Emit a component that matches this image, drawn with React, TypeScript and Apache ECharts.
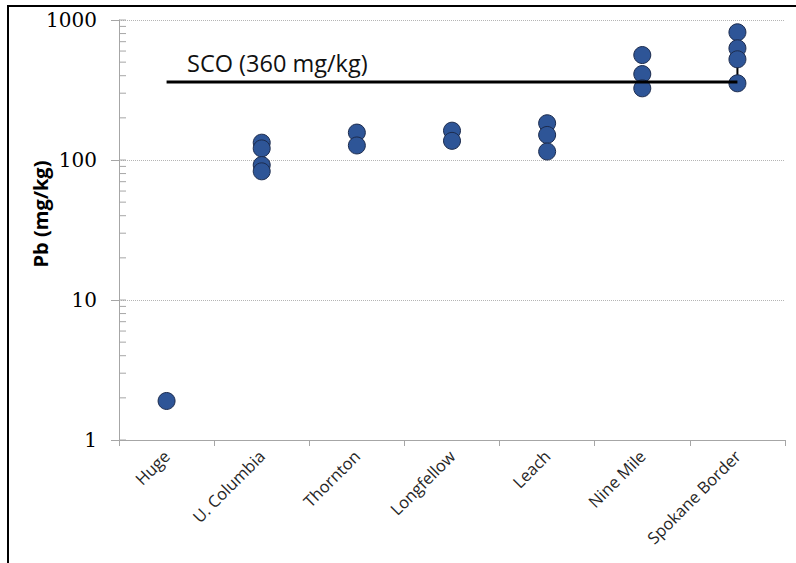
import React, { useEffect, useRef } from "react";
import * as echarts from "echarts";

const categories = ["Huge", "U. Columbia", "Thornton", "Longfellow", "Leach", "Nine Mile", "Spokane Border"];

const hugeValues = [1.9];
const uColumbiaValues = [133, 121, 92, 83];
const thorntonValues = [157, 127];
const longfellowValues = [162, 137];
const leachValues = [183, 151, 115];
const nineMileValues = [562, 411, 325];
const spokaneBorderValues = [817, 628, 524, 353];

const siteValues = [
  hugeValues,
  uColumbiaValues,
  thorntonValues,
  longfellowValues,
  leachValues,
  nineMileValues,
  spokaneBorderValues,
];

const scoValue = 360;
const scoLabel = "SCO (360 mg/kg)";
const connectorValues = [353, 524];

const yTickValues = [
  1, 2, 3, 4, 5, 6, 7, 8, 9,
  10, 20, 30, 40, 50, 60, 70, 80, 90,
  100, 200, 300, 400, 500, 600, 700, 800, 900,
  1000,
];

export default function App() {
  const ref = useRef<HTMLDivElement>(null);

  useEffect(() => {
    if (!ref.current) return;
    const chart = echarts.init(ref.current, undefined, { renderer: "svg" });

    const scatterData: [number, number][] = [];
    siteValues.forEach((vals, i) => vals.forEach((v) => scatterData.push([i, v])));

    const axisGray = "#a6a6a6";

    chart.setOption({
      animation: false,
      backgroundColor: "#ffffff",
      grid: { left: 119, top: 20, right: 11, bottom: 123, containLabel: false },
      xAxis: {
        type: "category",
        data: categories,
        boundaryGap: true,
        axisLine: { show: true, lineStyle: { color: axisGray, width: 1 } },
        axisTick: { show: true, length: 6, lineStyle: { color: axisGray } },
        axisLabel: {
          rotate: 45,
          margin: 13,
          interval: 0,
          fontFamily: "Open Sans",
          fontSize: 16.5,
          color: "#262626",
        },
        splitLine: { show: false },
      },
      yAxis: {
        type: "log",
        logBase: 10,
        min: 1,
        max: 1000,
        axisLine: { show: true, lineStyle: { color: axisGray, width: 1 } },
        axisTick: { show: true, length: 8, lineStyle: { color: axisGray } },
        axisLabel: {
          margin: 22,
          fontFamily: "DejaVu Serif",
          fontSize: 20,
          color: "#000000",
          formatter: (v: number) => String(Math.round(v)),
        },
        splitLine: { show: true, lineStyle: { color: "#b5b5b5", type: "dotted", width: 1 } },
      },
      graphic: [
        {
          type: "rect",
          shape: { x: 8, y: 6, width: 900, height: 700 },
          style: { fill: "none", stroke: "#000000", lineWidth: 2 },
          silent: true,
          z: 100,
        },
        {
          type: "text",
          x: 187,
          y: 63,
          style: {
            text: scoLabel,
            font: '23.5px "Open Sans"',
            fill: "#111111",
            textAlign: "left",
            textVerticalAlign: "middle",
          },
        },
        {
          type: "text",
          x: 40,
          y: 214,
          rotation: Math.PI / 2,
          style: {
            text: "Pb (mg/kg)",
            font: 'bold 20px "Open Sans"',
            fill: "#000000",
            textAlign: "center",
            textVerticalAlign: "middle",
          },
        },
      ],
      series: [
        {
          type: "custom",
          silent: true,
          clip: false,
          data: yTickValues.map((v) => [0, v]),
          encode: { x: 0, y: 1 },
          renderItem: (params: any, api: any) => {
            const cs = params.coordSys;
            const p = api.coord([0, api.value(1)]);
            return {
              type: "line",
              shape: { x1: cs.x, y1: p[1], x2: cs.x + 7, y2: p[1] },
              style: { stroke: axisGray, lineWidth: 1 },
            };
          },
          z: 1,
        },
        {
          type: "line",
          data: connectorValues.map((v) => [6, v]),
          symbol: "none",
          lineStyle: { color: "#000000", width: 2 },
          silent: true,
          z: 2,
        },
        {
          type: "scatter",
          data: scatterData,
          symbol: "circle",
          symbolSize: 17,
          itemStyle: { color: "#2E5597", borderColor: "#1C2B4D", borderWidth: 1, opacity: 1 },
          z: 3,
        },
        {
          type: "line",
          data: categories.map(() => scoValue),
          symbol: "none",
          lineStyle: { color: "#000000", width: 3 },
          silent: true,
          z: 4,
        },
      ],
    });

    return () => chart.dispose();
  }, []);

  return (
    <div
      ref={ref}
      style={{ position: "absolute", left: 0, top: 0, width: 796, height: 563 }}
    />
  );
}
